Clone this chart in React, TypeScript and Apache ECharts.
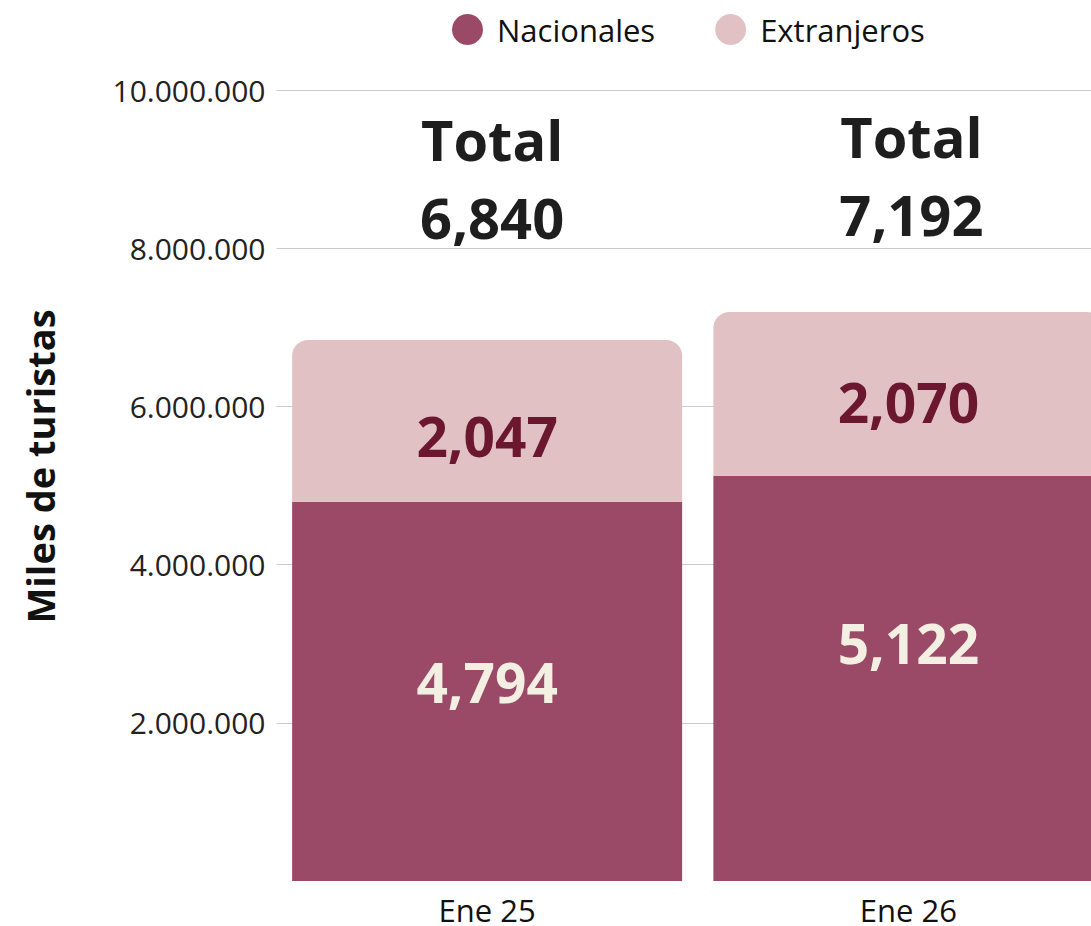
import React, { useEffect, useRef } from "react";
import * as echarts from "echarts";

const categories = ["Ene 25", "Ene 26"];
const nacionales = [4794, 5122]; // miles de turistas
const extranjeros = [2047, 2070];
const totals = [6840, 7192];
const yTicks = [0, 2000000, 4000000, 6000000, 8000000, 10000000];

const FONT = "'Open Sans', 'Noto Sans', sans-serif";

const fmtComma = (v: number) => v.toString().replace(/\B(?=(\d{3})+(?!\d))/g, ",");
const fmtDot = (v: number) => v.toString().replace(/\B(?=(\d{3})+(?!\d))/g, ".");

export default function App() {
  const ref = useRef<HTMLDivElement>(null);
  useEffect(() => {
    if (!ref.current) return;
    const chart = echarts.init(ref.current, null, { renderer: "svg" });
    const nacLabelOffsets = [[0, -10], [0, -36]];
    const extLabelOffsets = [[0, 15], [0, 8]];
    const totalLabelY = [8.89e6, 8.92e6];
    const totalLabelOffsets = [[5, 0], [3, 0]];
    chart.setOption({
      animation: false,
      backgroundColor: "#ffffff",
      textStyle: { fontFamily: FONT },
      legend: {
        data: ["Nacionales", "Extranjeros"],
        icon: "circle",
        itemWidth: 31,
        itemHeight: 31,
        itemGap: 60,
        left: 452,
        top: 14,
        padding: 0,
        textStyle: { fontSize: 31, color: "#111111", fontFamily: FONT, padding: [0, 0, 0, 9] },
      },
      grid: { left: 276.5, right: 0, top: 90, bottom: 45, containLabel: false },
      xAxis: {
        type: "category",
        data: categories,
        axisLine: { show: false },
        axisTick: { show: false },
        axisLabel: { fontSize: 31, color: "#111111", margin: 13, fontFamily: FONT },
      },
      yAxis: {
        type: "value",
        min: yTicks[0],
        max: yTicks[yTicks.length - 1],
        interval: yTicks[1] - yTicks[0],
        name: "Miles de turistas",
        nameLocation: "middle",
        nameGap: 218,
        nameTextStyle: { fontSize: 38, fontWeight: "bold", color: "#111111", fontFamily: FONT, padding: [0, 0, 0, 38] },
        axisLine: { show: false },
        axisTick: { show: false },
        axisLabel: {
          fontSize: 30,
          color: "#222222",
          margin: 11,
          fontFamily: FONT,
          formatter: (v: number) => (v === 0 ? "" : fmtDot(v)),
        },
        splitLine: {
          show: true,
          lineStyle: { color: ["rgba(0,0,0,0)", "#cccccc", "#cccccc", "#cccccc", "#cccccc", "#cccccc"], width: 1 },
        },
      },
      series: [
        {
          name: "Nacionales",
          type: "bar",
          stack: "t",
          barWidth: 390,
          itemStyle: { color: "#9a4a66" },
          data: nacionales.map((v, i) => ({
            value: v * 1000,
            label: { offset: nacLabelOffsets[i] },
          })),
          label: {
            show: true,
            position: "inside",
            color: "#f3efe3",
            fontSize: 55,
            fontWeight: "bold",
            fontFamily: FONT,
            formatter: (p: any) => fmtComma(nacionales[p.dataIndex]),
          },
        },
        {
          name: "Extranjeros",
          type: "bar",
          stack: "t",
          barWidth: 390,
          itemStyle: { color: "#e1c1c4", borderRadius: [16, 16, 0, 0] },
          data: extranjeros.map((v, i) => ({
            value: v * 1000,
            label: { offset: extLabelOffsets[i] },
          })),
          label: {
            show: true,
            position: "inside",
            color: "#6b1730",
            fontSize: 55,
            fontWeight: "bold",
            fontFamily: FONT,
            formatter: (p: any) => fmtComma(extranjeros[p.dataIndex]),
          },
        },
        {
          name: "Total",
          type: "scatter",
          symbolSize: 0,
          silent: true,
          itemStyle: { opacity: 1 },
          data: totals.map((v, i) => ({
            value: [i, totalLabelY[i]],
            label: { offset: totalLabelOffsets[i] },
          })),
          label: {
            show: true,
            position: "inside",
            color: "#1e1e1e",
            fontSize: 56,
            fontWeight: "bold",
            lineHeight: 78,
            fontFamily: FONT,
            formatter: (p: any) => "Total\n" + fmtComma(totals[p.dataIndex]),
          },
        },
      ],
    });
    return () => chart.dispose();
  }, []);
  return (
    <div style={{ position: "absolute", left: 0, top: 0, width: 1091, height: 926, overflow: "hidden" }}>
      <div ref={ref} style={{ width: 1119, height: 926 }} />
    </div>
  );
}
